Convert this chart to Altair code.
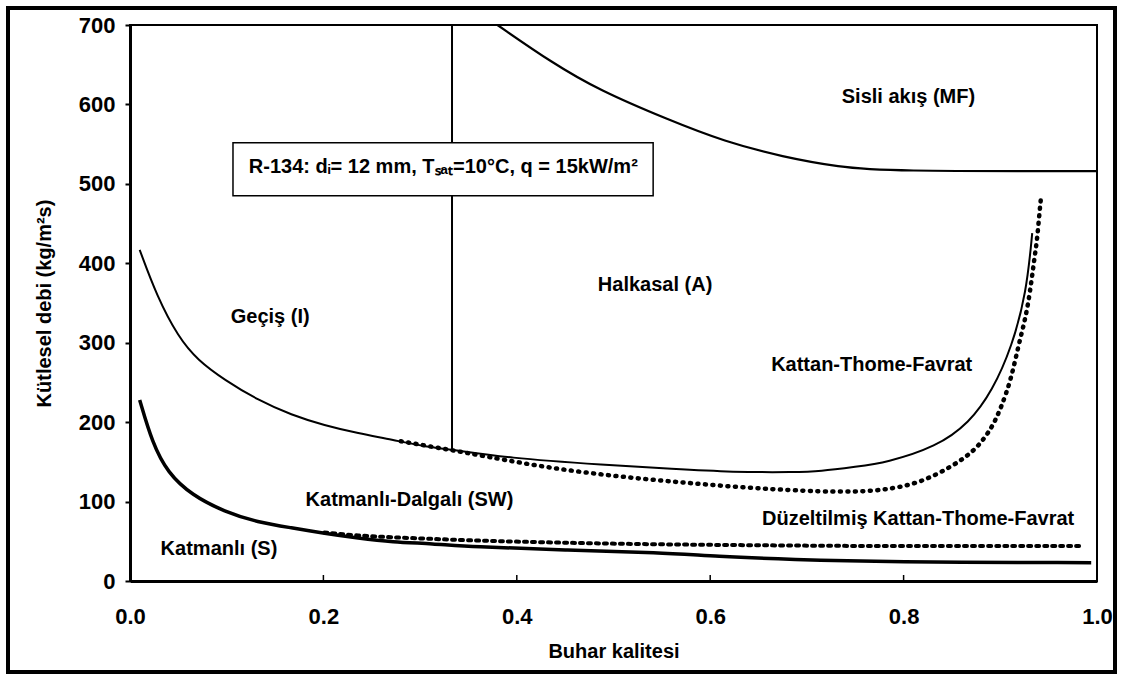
import altair as alt
import pandas as pd

# ---- data ----
# Kattan-Thome-Favrat: I/A boundary (solid upper curve)
ktf_upper_x = [0.010, 0.028, 0.050, 0.070, 0.098, 0.132, 0.167, 0.201, 0.236, 0.271, 0.305, 0.331,
               0.389, 0.493, 0.561, 0.623, 0.689, 0.713, 0.751, 0.782, 0.834, 0.868, 0.892, 0.912, 0.927, 0.933]
ktf_upper_y = [417, 358, 307, 278, 253, 228, 209, 196, 186, 178, 169, 166,
               155, 146, 141, 137, 137, 138, 144, 149, 169, 199, 240, 295, 363, 438]

# Modified Kattan-Thome-Favrat: upper dotted curve
mod_upper_x = [0.280, 0.331, 0.350, 0.424, 0.493, 0.561, 0.630, 0.700, 0.752, 0.782, 0.816, 0.850,
               0.875, 0.892, 0.901, 0.911, 0.919, 0.927, 0.932, 0.935, 0.938, 0.940, 0.942]
mod_upper_y = [176, 165, 161, 144, 133, 125, 118, 113, 112, 115, 123, 144,
               165, 194, 219, 253, 298, 335, 375, 404, 429, 457, 482]

# S / SW boundary (solid lower curve)
ktf_lower_x = [0.010, 0.023, 0.039, 0.064, 0.098, 0.132, 0.167, 0.201, 0.236, 0.271, 0.313, 0.353,
               0.450, 0.548, 0.606, 0.685, 0.782, 0.994]
ktf_lower_y = [228, 174, 136, 108, 87, 74, 67, 60, 54, 49, 47, 43, 39, 36, 31, 27, 24, 23]

# Modified S / SW boundary (dotted lower curve)
mod_lower_x = [0.201, 0.236, 0.271, 0.313, 0.353, 0.450, 0.550, 0.650, 0.750, 0.850, 0.985]
mod_lower_y = [61, 57, 55, 53, 51, 48, 46, 45, 44, 44, 44]

# Mist flow boundary
mf_x = [0.380, 0.437, 0.485, 0.556, 0.615, 0.675, 0.734, 0.782, 1.000]
mf_y = [700, 652, 618, 581, 553, 534, 521, 516, 516]

# Vertical I/A transition line
vline_x = [0.333, 0.333]
vline_y = [165, 700]

# Region labels
label_text = ["Sisli akış (MF)", "Halkasal (A)", "Geçiş (I)", "Kattan-Thome-Favrat",
              "Katmanlı-Dalgalı (SW)", "Düzeltilmiş Kattan-Thome-Favrat", "Katmanlı (S)"]
label_x = [0.805, 0.543, 0.145, 0.767, 0.289, 0.815, 0.092]
label_y = [609, 373, 333, 272, 102, 78, 40]

box_text = "R-134: dᵢ= 12 mm, Tₛₐₜ=10°C, q = 15kW/m²"
box_x, box_x2, box_y, box_y2 = 0.1065, 0.541, 551.6, 484.9
box_tx, box_ty = 0.324, 521

x_ticks = [0.0, 0.2, 0.4, 0.6, 0.8, 1.0]
y_ticks = [0, 100, 200, 300, 400, 500, 600, 700]

W, H = 967, 556
FONT = "Liberation Sans"

xs = alt.Scale(domain=[0, 1], nice=False, zero=False)
ys = alt.Scale(domain=[0, 700], nice=False)

x_axis = alt.Axis(values=x_ticks, format=".1f", ticks=False, tickSize=0, labelPadding=25,
                  labelFlush=False, title="Buhar kalitesi", titlePadding=14, grid=False)
y_axis = alt.Axis(values=y_ticks, format="d", tickSize=5, labelPadding=10, labelFlush=False,
                  title="Kütlesel debi (kg/m²s)", titlePadding=24, grid=False)


def X(f="x"):
    return alt.X(f"{f}:Q", scale=xs, axis=x_axis)


def Y(f="y"):
    return alt.Y(f"{f}:Q", scale=ys, axis=y_axis)


def curve(xv, yv, interp="basis", **mk):
    df = pd.DataFrame({"x": xv, "y": yv, "o": list(range(len(xv)))})
    return alt.Chart(df).mark_line(interpolate=interp, color="black", **mk).encode(
        x=X(), y=Y(), order="o:Q")


upper = curve(ktf_upper_x, ktf_upper_y, strokeWidth=2)
upper_mod = curve(mod_upper_x, mod_upper_y, strokeWidth=4.5, strokeDash=[1, 6.5], strokeCap="round")
lower = curve(ktf_lower_x, ktf_lower_y, strokeWidth=3.5)
lower_mod = curve(mod_lower_x, mod_lower_y, strokeWidth=4, strokeDash=[3, 5], strokeCap="round")
mf = curve(mf_x, mf_y, strokeWidth=2.2)
vline = curve(vline_x, vline_y, interp="linear", strokeWidth=2)

box = alt.Chart(pd.DataFrame({"x": [box_x], "x2": [box_x2], "y": [box_y], "y2": [box_y2]})).mark_rect(
    fill="white", stroke="black", strokeWidth=1.5).encode(
    x=X(), x2="x2:Q", y=Y(), y2="y2:Q")

box_label = alt.Chart(pd.DataFrame({"x": [box_tx], "y": [box_ty], "t": [box_text]})).mark_text(
    font=FONT, fontSize=20, fontWeight="bold", color="black", baseline="middle", align="center").encode(
    x=X(), y=Y(), text="t:N")

labels = alt.Chart(pd.DataFrame({"x": label_x, "y": label_y, "t": label_text})).mark_text(
    font=FONT, fontSize=20, fontWeight="bold", color="black", baseline="middle", align="center").encode(
    x=X(), y=Y(), text="t:N")

# inward x ticks
xt = alt.Chart(pd.DataFrame({"x": x_ticks[1:-1]})).mark_rule(color="black", strokeWidth=1.5).encode(
    x=X(), y=alt.value(H), y2=alt.value(H - 6))

# outer frame of the figure
frame = alt.Chart(pd.DataFrame({"a": [0]})).mark_rect(
    fill="white", fillOpacity=0, stroke="black", strokeWidth=4, clip=False).encode(
    x=alt.value(-122), x2=alt.value(985), y=alt.value(-17), y2=alt.value(647))

chart = alt.layer(
    frame, vline, box, box_label, mf, upper, upper_mod, lower, lower_mod, labels, xt
).properties(
    width=W, height=H,
    autosize=alt.AutoSizeParams(type="none"),
    padding={"left": 130, "top": 25, "right": 27, "bottom": 98},
    background="white",
).configure_view(
    stroke="black", strokeWidth=2
).configure_axis(
    domainColor="black", domainWidth=3, tickColor="black", tickWidth=2,
    labelFont=FONT, labelFontSize=22, labelFontWeight="bold", labelColor="black",
    titleFont=FONT, titleFontSize=20, titleFontWeight="bold", titleColor="black",
)

chart.save("out.html", embed_options={"renderer": "svg", "actions": False})
